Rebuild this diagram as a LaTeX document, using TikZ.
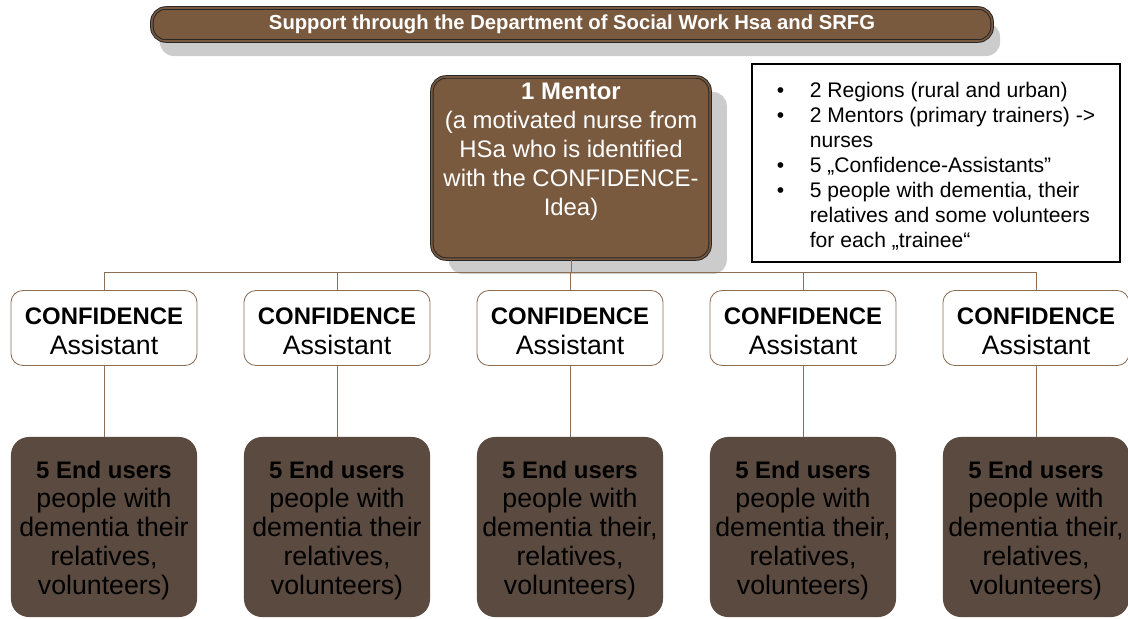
\documentclass[tikz,border=0pt]{standalone}
\usepackage{fontspec}
\setmainfont{Liberation Sans}
\usetikzlibrary{shadows}
\definecolor{mbrown}{HTML}{7A5A3F}
\definecolor{dbrown}{HTML}{5A4A3F}
\definecolor{lbrown}{HTML}{8C6E55}
\newcommand\bul{\makebox[0.825cm][l]{\textbullet}}
\newcommand\ind{\hspace*{0.825cm}}
\newcommand\hd[1]{{\fontsize{17}{20.6}\selectfont\bfseries\rule{0pt}{17pt}#1}}
\tikzset{
  darkbox/.style={fill=mbrown, draw=black!85, line width=0.7pt, double=mbrown, double distance=1.1pt, text=white},
  assist/.style={draw=lbrown, line width=0.6pt, fill=white, rounded corners=0.3cm, minimum width=4.65cm, minimum height=1.875cm, align=center, inner sep=0pt, font=\fontsize{19}{21.4}\selectfont},
  enduser/.style={fill=dbrown, rounded corners=0.45cm, minimum width=4.65cm, minimum height=4.5cm, align=center, inner sep=0pt, font=\fontsize{19}{20.6}\selectfont},
  link/.style={draw=lbrown, line width=0.6pt}
}
\begin{document}
\begin{tikzpicture}[x=0.025cm,y=-0.025cm]
\useasboundingbox (0,0) rectangle (1128,618);
% top bar
\node[darkbox, rounded corners=0.35cm, minimum width=21cm, minimum height=0.825cm, inner sep=0pt,
  general shadow={fill=black!20, shadow xshift=0.2cm, shadow yshift=-0.375cm},
  font=\bfseries\fontsize{14.4}{17}\selectfont] (title) at (572,24.5)
  {Support through the Department of Social Work Hsa and SRFG};
% mentor
\node[darkbox, rounded corners=0.35cm, minimum width=6.95cm, minimum height=4.55cm, inner sep=0pt, align=center,
  general shadow={fill=black!20, shadow xshift=0.42cm, shadow yshift=-0.375cm},
  font=\fontsize{17}{20.6}\selectfont] (mentor) at (571,168)
  {\textbf{1 Mentor}\\(a motivated nurse from\\HSa who is identified\\with the CONFIDENCE-\\Idea)\\\strut};
% info box
\node[draw=black, line width=1pt, fill=white, minimum width=9.2cm, minimum height=4.95cm,
  inner sep=0pt, align=left, font=\fontsize{15}{17.8}\selectfont] (info) at (936,163)
  {\rule{0pt}{16pt}\bul 2 Regions (rural and urban)\\
   \bul 2 Mentors (primary trainers) ->\\
   \ind nurses\\
   \bul 5 „Confidence-Assistants”\\
   \bul 5 people with dementia, their\\
   \ind relatives and some volunteers\\
   \ind for each „trainee“};
\coordinate (bus) at (571,272);
\draw[link] (mentor.south) -- (bus);
\foreach \i/\x/\t in {1/104/their,2/337/their,3/570/{their,},4/803/{their,},5/1036/{their,}}{
  \node[assist] (a\i) at (\x,328) {\hd{CONFIDENCE}\\Assistant};
  \node[enduser] (e\i) at (\x,527) {\hd{5 End users}\\people with\\dementia \t\\relatives,\\volunteers)};
  \draw[link] (bus) -| (a\i.north);
  \draw[link] (a\i) -- (e\i);
}
\end{tikzpicture}
\end{document}
